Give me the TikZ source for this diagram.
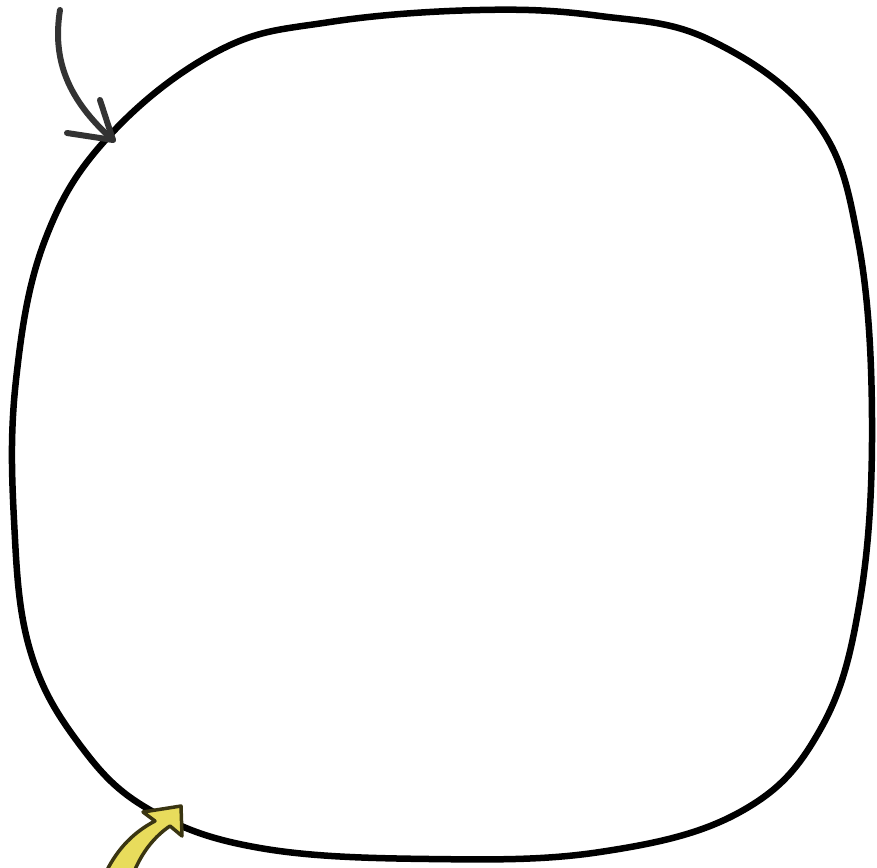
\documentclass[tikz,border=0pt]{standalone}
\definecolor{arrowgray}{HTML}{333333}
\definecolor{yfill}{HTML}{E8DC5C}
\definecolor{yline}{HTML}{3A3512}
\tikzset{
  blob/.style={line width=6.5pt, black, line join=round},
  sketchline/.style={line width=6pt, arrowgray, line cap=round, line join=round},
  yarrow/.style={fill=yfill, draw=yline, line width=3.5pt, line join=round}
}
\begin{document}
\begin{tikzpicture}[x=1pt,y=-1pt]
\useasboundingbox (0,0) rectangle (877,867);
\fill[white] (0,0) rectangle (877,867);
% main blob
\draw[blob] plot[smooth cycle, tension=0.65] coordinates {
  (480,10) (330,22) (220,50) (110,135) (45,240) (16,380) (14,520) (30,650)
  (80,745) (150,810) (260,848) (430,859) (600,852) (740,812) (820,730)
  (860,600) (872,420) (858,240) (815,120) (710,40) (600,16)};
% top-left arrow
\coordinate (s1) at (60,10);
\coordinate (t1) at (113,140);
\coordinate (b1) at (100,100);
\coordinate (b2) at (67,133);
\draw[sketchline] (s1) .. controls (52,60) and (68,100) .. (t1);
\draw[sketchline] (b1) -- (t1) -- (b2);
% yellow arrow
\coordinate (ytip) at (181,806);
\draw[yarrow] (106,872) .. controls (118,848) and (134,832) .. (155,821)
  -- (143,812) -- (ytip) -- (182,836) -- (170,826)
  .. controls (155,836) and (142,852) .. (134,872) -- cycle;
\end{tikzpicture}
\end{document}
